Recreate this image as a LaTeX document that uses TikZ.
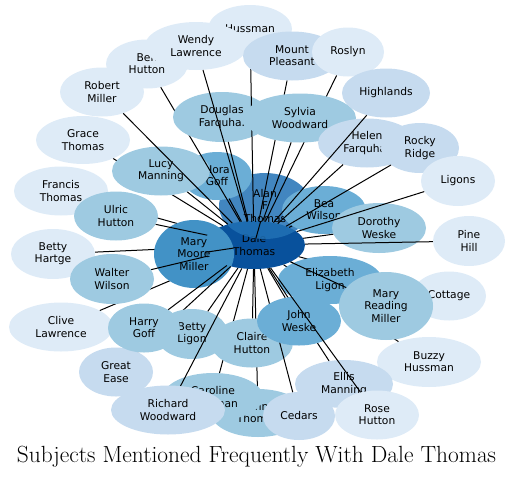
\documentclass[tikz,border=0pt]{standalone}
\usepackage{fontspec}
\usetikzlibrary{shapes.geometric}
\newfontfamily\dvfont{DejaVu Sans}
\definecolor{b2}{HTML}{DEEBF7}
\definecolor{b3}{HTML}{C6DBEF}
\definecolor{b4}{HTML}{9ECAE1}
\definecolor{b5}{HTML}{6BAED6}
\definecolor{b6}{HTML}{4292C6}
\definecolor{b7}{HTML}{2171B5}
\definecolor{b8}{HTML}{08519C}
\begin{document}
\begin{tikzpicture}[x=1pt,y=-1pt,
  nd/.style={ellipse, inner sep=0pt, align=center, text=black,
    font=\dvfont\fontsize{10.7}{12.3}\selectfont},
  sz/.style 2 args={minimum width=#1, minimum height=#2},
  c2/.style={fill=b2}, c3/.style={fill=b3}, c4/.style={fill=b4},
  c5/.style={fill=b5}, c6/.style={fill=b6}, c7/.style={fill=b7}, c8/.style={fill=b8},
  ln/.style={draw=black, line width=1pt}]
\useasboundingbox (0,0) rectangle (513,477);
\node[nd,c8,sz={102}{48}] (dale) at (254,245) {Dale\\Thomas};
\node[nd,c7,sz={92}{66},fill opacity=0.85,text opacity=1] (alan) at (265,206) {Alan\\F\\Thomas};
\draw[ln] (dale) -- (alan);
\node[nd,c2,sz={84}{50}] (hartge) at (53,254) {Betty\\Hartge};
\draw[ln] (dale) -- (hartge);
\node[nd,c2,sz={104}{49}] (clive) at (61,327) {Clive\\Lawrence};
\draw[ln] (dale) -- (clive);
\node[nd,c2,sz={94}{49}] (francis) at (61,191) {Francis\\Thomas};
\draw[ln] (dale) -- (francis);
\node[nd,c6,sz={80}{68}] (mmm) at (194,254) {Mary\\Moore\\Miller};
\draw[ln] (dale) -- (mmm);
\node[nd,c4,sz={84}{50}] (walter) at (112,279) {Walter\\Wilson};
\draw[ln] (dale) -- (walter);
\node[nd,c2,sz={94}{48}] (grace) at (83,140) {Grace\\Thomas};
\draw[ln] (dale) -- (grace);
\node[nd,c5,sz={70}{48}] (nora) at (217,176) {Nora\\Goff};
\draw[ln] (dale) -- (nora);
\node[nd,c4,sz={98}{49}] (lucy) at (161,171) {Lucy\\Manning};
\draw[ln] (dale) -- (lucy);
\node[nd,c4,sz={84}{49}] (ulric) at (116,216) {Ulric\\Hutton};
\draw[ln] (dale) -- (ulric);
\node[nd,c2,sz={84}{49}] (robert) at (102,92) {Robert\\Miller};
\draw[ln] (dale) -- (robert);
\node[nd,c2,sz={82}{49}] (ben) at (147,64) {Ben\\Hutton};
\draw[ln] (dale) -- (ben);
\node[nd,c4,sz={98}{50}] (douglas) at (222,117) {Douglas\\Farquha.};
\draw[ln] (dale) -- (douglas);
\node[nd,c2,sz={84}{48}] (hussman) at (250,29) {Hussman};
\draw[ln] (dale) -- (hussman);
\node[nd,c2,sz={102}{48}] (wendy) at (196,46) {Wendy\\Lawrence};
\draw[ln] (dale) -- (wendy);
\node[nd,c3,sz={98}{49}] (mount) at (292,56) {Mount\\Pleasant};
\draw[ln] (dale) -- (mount);
\node[nd,c2,sz={72}{49}] (roslyn) at (348,52) {Roslyn};
\draw[ln] (dale) -- (roslyn);
\node[nd,c4,sz={112}{49}] (sylvia) at (300,118) {Sylvia\\Woodward};
\draw[ln] (dale) -- (sylvia);
\node[nd,c5,sz={84}{48}] (bea) at (324,210) {Bea\\Wilson};
\draw[ln] (dale) -- (bea);
\node[nd,c3,sz={98}{49}] (helen) at (367,143) {Helen\\Farquhar};
\draw[ln] (dale) -- (helen);
\node[nd,c3,sz={88}{49}] (highlands) at (386,93) {Highlands};
\draw[ln] (dale) -- (highlands);
\node[nd,c3,sz={78}{50}] (rocky) at (420,148) {Rocky\\Ridge};
\draw[ln] (dale) -- (rocky);
\node[nd,c4,sz={94}{50}] (dorothy) at (379,228) {Dorothy\\Weske};
\draw[ln] (dale) -- (dorothy);
\node[nd,c2,sz={74}{50}] (ligons) at (458,181) {Ligons};
\draw[ln] (dale) -- (ligons);
\node[nd,c2,sz={72}{50}] (pine) at (469,241) {Pine\\Hill};
\draw[ln] (dale) -- (pine);
\node[nd,c2,sz={74}{49}] (cottage) at (449,296) {Cottage};
\draw[ln] (dale) -- (cottage);
\node[nd,c2,sz={104}{50}] (buzzy) at (429,362) {Buzzy\\Hussman};
\draw[ln] (dale) -- (buzzy);
\node[nd,c5,sz={104}{48}] (eliz) at (330,280) {Elizabeth\\Ligon};
\draw[ln] (dale) -- (eliz);
\node[nd,c4,sz={94}{68}] (mrm) at (386,306) {Mary\\Reading\\Miller};
\draw[ln] (dale) -- (mrm);
\node[nd,c3,sz={74}{49}] (ease) at (116,372) {Great\\Ease};
\draw[ln] (dale) -- (ease);
\node[nd,c4,sz={72}{50}] (bligon) at (192,334) {Betty\\Ligon};
\draw[ln] (dale) -- (bligon);
\node[nd,c4,sz={72}{49}] (harry) at (144,328) {Harry\\Goff};
\draw[ln] (dale) -- (harry);
\node[nd,c4,sz={94}{48}] (ruth) at (258,413) {Ann\\Thomas};
\draw[ln] (dale) -- (ruth);
\node[nd,c4,sz={100}{48}] (caroline) at (213,397) {Caroline\\Hussman};
\draw[ln] (dale) -- (caroline);
\node[nd,c4,sz={82}{49}] (claire) at (252,343) {Claire\\Hutton};
\draw[ln] (dale) -- (claire);
\node[nd,c3,sz={114}{49}] (richard) at (168,410) {Richard\\Woodward};
\draw[ln] (dale) -- (richard);
\node[nd,c3,sz={98}{48}] (ellis) at (344,384) {Ellis\\Manning};
\draw[ln] (dale) -- (ellis);
\node[nd,c3,sz={72}{48}] (cedars) at (299,416) {Cedars};
\draw[ln] (dale) -- (cedars);
\node[nd,c5,sz={84}{49}] (john) at (299,321) {John\\Weske};
\draw[ln] (dale) -- (john);
\node[nd,c2,sz={84}{49}] (rose) at (377,415) {Rose\\Hutton};
\draw[ln] (dale) -- (rose);
\node[anchor=base, inner sep=0pt, font=\fontsize{23.4}{26}\selectfont] (title) at (256.5,462) {Subjects Mentioned Frequently With Dale Thomas};
\end{tikzpicture}
\end{document}
